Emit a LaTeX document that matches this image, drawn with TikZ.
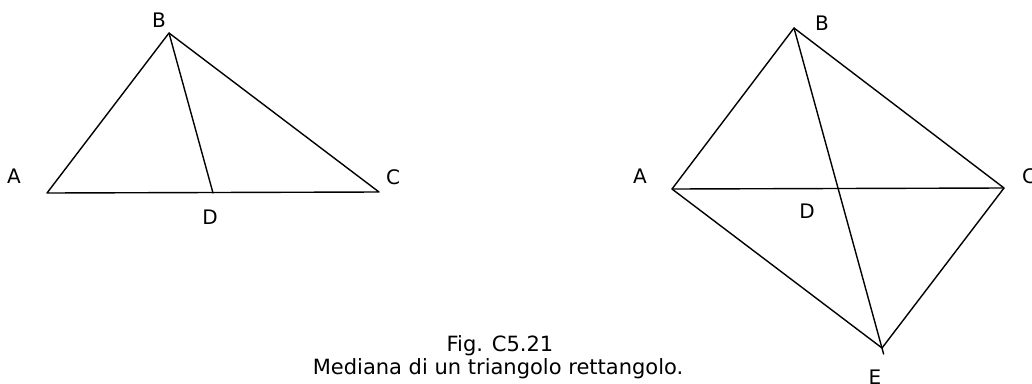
\documentclass[tikz,border=0pt]{standalone}
\usepackage{fontspec}
\setmainfont{DejaVu Sans}
\begin{document}
\begin{tikzpicture}[x=1pt,y=-1pt,
  seg/.style={line width=1.4pt,line cap=round,line join=round},
  lbl/.style={inner sep=0pt,anchor=base,font=\fontsize{20}{24}\selectfont},
  captxt/.style={inner sep=0pt,anchor=base,font=\fontsize{21}{25}\selectfont}]
\useasboundingbox (0,0) rectangle (1032,383);
% left triangle
\coordinate (lA) at (47,193);
\coordinate (lB) at (169,33);
\coordinate (lC) at (379,192);
\coordinate (lD) at (213,193);
\draw[seg] (lA) -- (lB) -- (lC) -- cycle;
\draw[seg] (lB) -- (lD);
\node[lbl] (tlA) at (14,183) {A};
\node[lbl] (tlB) at (159,27) {B};
\node[lbl] (tlC) at (393,184) {C};
\node[lbl] (tlD) at (210,224) {D};
% right figure
\coordinate (rA) at (672,189);
\coordinate (rB) at (794,28);
\coordinate (rC) at (1004,188);
\coordinate (rE) at (882,348);
\coordinate (rEx) at (883.6,354);
\draw[seg] (rA) -- (rB) -- (rC) -- (rE) -- cycle;
\draw[seg] (rA) -- (rC);
\draw[seg] (rB) -- (rEx);
\node[lbl] (trA) at (640,183) {A};
\node[lbl] (trB) at (822,30) {B};
\node[lbl,anchor=base west] (trC) at (1022,183) {C};
\node[lbl] (trD) at (807,218) {D};
\node[lbl] (trE) at (875,384) {E};
% caption
\node[captxt] (cap1) at (500,351) {Fig. C5.21};
\node[captxt] (cap2) at (498,374) {Mediana di un triangolo rettangolo.};
\end{tikzpicture}
\end{document}
